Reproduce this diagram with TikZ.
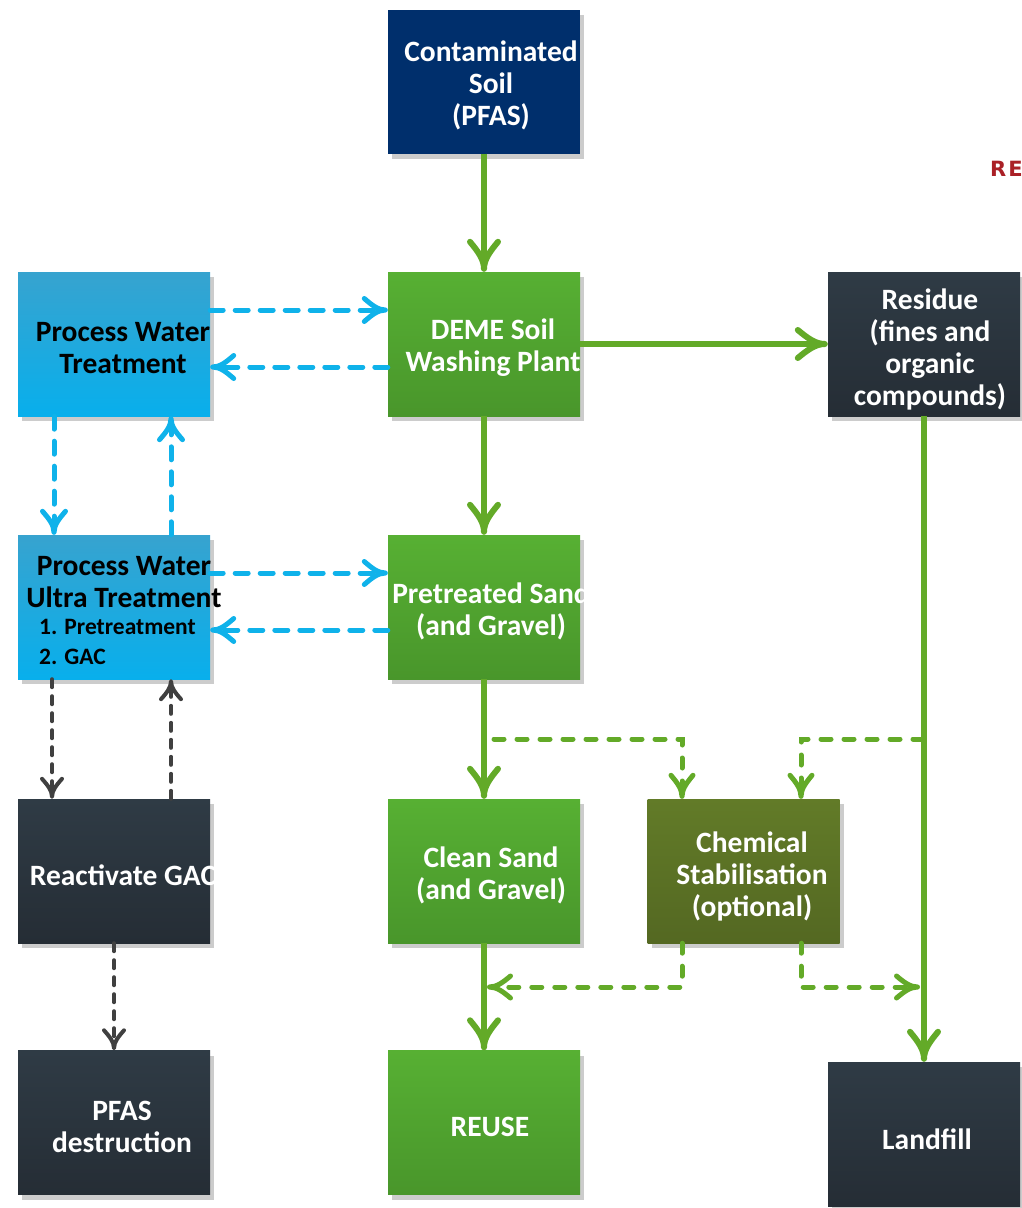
\documentclass[tikz,border=0pt]{standalone}
\usepackage{fontspec}
\setmainfont{Carlito}
\newfontfamily\redfont{DejaVu Sans}
\usetikzlibrary{arrows.meta,calc}

\pgfdeclarearrow{
  name = Yfork,
  parameters = {\the\pgfarrowlength,\the\pgfarrowwidth,\the\pgflinewidth},
  setup code = {
    \pgfarrowssettipend{0.5\pgflinewidth}
    \pgfarrowssetlineend{-0.5\pgflinewidth}
    \pgfarrowssetbackend{-\pgfarrowlength}
    \pgfarrowssavethe\pgfarrowlength
    \pgfarrowssavethe\pgfarrowwidth
  },
  drawing code = {
    \pgfsetdash{}{0pt}
    \pgfsetroundcap
    \pgfsetroundjoin
    \pgfpathmoveto{\pgfpoint{-\pgfarrowlength}{0.5\pgfarrowwidth}}
    \pgfpathcurveto{\pgfpoint{-0.65\pgfarrowlength}{0.22\pgfarrowwidth}}{\pgfpoint{-0.35\pgfarrowlength}{0pt}}{\pgfpoint{0pt}{0pt}}
    \pgfpathcurveto{\pgfpoint{-0.35\pgfarrowlength}{0pt}}{\pgfpoint{-0.65\pgfarrowlength}{-0.22\pgfarrowwidth}}{\pgfpoint{-\pgfarrowlength}{-0.5\pgfarrowwidth}}
    \pgfusepathqstroke
  },
  defaults = {length = 20pt, width = 22pt}
}

\definecolor{navy}{RGB}{0,47,108}
\definecolor{gtop}{RGB}{87,176,51}
\definecolor{gbot}{RGB}{73,150,43}
\definecolor{btop}{RGB}{55,163,207}
\definecolor{bbot}{RGB}{8,175,236}
\definecolor{stop}{RGB}{47,59,69}
\definecolor{sbot}{RGB}{37,45,53}
\definecolor{otop}{RGB}{98,123,40}
\definecolor{obot}{RGB}{84,104,34}
\definecolor{lgreen}{RGB}{99,170,40}
\definecolor{lblue}{RGB}{15,178,234}
\definecolor{dgray}{RGB}{64,64,64}
\definecolor{shadowc}{RGB}{204,204,204}
\definecolor{redc}{RGB}{170,32,38}

\tikzset{
  box/.style={minimum width=192pt, minimum height=144pt, inner sep=0pt,
    preaction={fill=shadowc, transform canvas={xshift=4pt,yshift=-5pt}}},
  navybox/.style={box, fill=navy},
  greenbox/.style={box, top color=gtop, bottom color=gbot},
  bluebox/.style={box, top color=btop, bottom color=bbot},
  slatebox/.style={box, top color=stop, bottom color=sbot},
  olivebox/.style={box, top color=otop, bottom color=obot},
  txtw/.style={text=white, font=\fontsize{29.5}{32}\selectfont\bfseries, align=center, inner sep=0pt},
  txtk/.style={text=black, font=\fontsize{29.5}{32}\selectfont\bfseries, align=center, inner sep=0pt},
  txts/.style={text=black, font=\fontsize{23.5}{30}\selectfont\bfseries, align=left, inner sep=0pt},
  gline/.style={draw=lgreen, line width=6pt, -{Yfork[length=27pt,width=28pt]}},
  gdash/.style={draw=lgreen, line width=5pt, dash pattern=on 10pt off 13pt, line cap=round, -{Yfork[length=21pt,width=22pt]}},
  bdash/.style={draw=lblue, line width=5pt, dash pattern=on 13pt off 12pt, line cap=round, -{Yfork[length=21pt,width=23pt]}},
  kdash/.style={draw=dgray, line width=4pt, dash pattern=on 8pt off 9pt, line cap=round, -{Yfork[length=18pt,width=20pt]}},
}

\begin{document}
\begin{tikzpicture}[x=1pt,y=-1pt]
\useasboundingbox (0,0) rectangle (1021,1208);

% boxes
\node[navybox]  (cont)  at (484,81.5) {};
\node[greenbox] (deme)  at (484,344) {};
\node[bluebox]  (pwt)   at (114,344) {};
\node[slatebox] (res)   at (924,344) {};
\node[bluebox]  (pwut)  at (114,607) {};
\node[greenbox] (pre)   at (484,607) {};
\node[slatebox] (gac)   at (114,871) {};
\node[greenbox] (clean) at (484,871) {};
\node[olivebox] (chem)  at (743.5,871) {};
\node[slatebox] (pfasd) at (114,1122.5) {};
\node[greenbox] (reuse) at (484,1122.5) {};
\node[slatebox] (land)  at (924,1134) {};

% texts
\node[txtw] (cont-t)  at (491,85) {Contaminated\\Soil\\(PFAS)};
\node[txtw] (deme-t)  at (493,348) {DEME Soil\\Washing Plant};
\node[txtk] (pwt-t)   at (123,348) {Process Water\\Treatment};
\node[txtw] (res-t)   at (930,349) {Residue\\(fines and\\organic\\compounds)};
\node[txtk] (pwut-t)  at (124,582) {Process Water\\Ultra Treatment};
\node[txts, anchor=west] (pwut-l) at (39,642) {1. Pretreatment\\2. GAC};
\node[txtw] (pre-t)   at (491,611) {Pretreated Sand\\(and Gravel)};
\node[txtw] (gac-t)   at (123,875) {Reactivate GAC};
\node[txtw] (clean-t) at (491,875) {Clean Sand\\(and Gravel)};
\node[txtw] (chem-t)  at (752,876) {Chemical\\Stabilisation\\(optional)};
\node[txtw] (pfasd-t) at (122,1127) {PFAS\\destruction};
\node[txtw] (reuse-t) at (490,1127) {REUSE};
\node[txtw] (land-t)  at (927,1139) {Landfill};

\node[text=redc, font=\redfont\fontsize{21}{24}\selectfont\bfseries, anchor=west, inner sep=0pt] (re) at (990,169) {R\kern2pt E};

% main green flow
\draw[gline] (cont.south) -- (deme.north);
\draw[gline] (deme.east) -- (res.west);
\draw[gline] (deme.south) -- (pre.north);
\draw[gline] (pre.south) -- (clean.north);
\draw[gline] (clean.south) -- (reuse.north);
\draw[gline] (res.south) -- (land.north);

% blue dashed water loops
\draw[bdash] ($(pwt.east)+(0,-34)$) -- ($(deme.west)+(0,-34)$);
\draw[bdash] ($(deme.west)+(0,23)$) -- ($(pwt.east)+(0,23)$);
\draw[bdash] ($(pwt.south)+(-60,0)$) -- ($(pwut.north)+(-60,0)$);
\draw[bdash] ($(pwut.north)+(57,0)$) -- ($(pwt.south)+(57,0)$);
\draw[bdash] ($(pwut.east)+(0,-34)$) -- ($(pre.west)+(0,-34)$);
\draw[bdash] ($(pre.west)+(0,23)$) -- ($(pwut.east)+(0,23)$);

% gray dashed GAC loop
\draw[kdash] ($(pwut.south)+(-62,0)$) -- ($(gac.north)+(-62,0)$);
\draw[kdash] ($(gac.north)+(57,0)$) -- ($(pwut.south)+(57,0)$);
\draw[kdash] (gac.south) -- (pfasd.north);

% green dashed stabilisation
\coordinate (j1) at (494,739);
\coordinate (j2) at (923,739);
\coordinate (j3) at (487,987);
\coordinate (j4) at (920,987);
\draw[gdash] (j1) -| ($(chem.north)+(-61.5,0)$);
\draw[gdash] (j2) -| ($(chem.north)+(57.5,0)$);
\draw[gdash] ($(chem.south)+(-61.5,0)$) |- (j3);
\draw[gdash] ($(chem.south)+(57.5,0)$) |- (j4);
\end{tikzpicture}
\end{document}
